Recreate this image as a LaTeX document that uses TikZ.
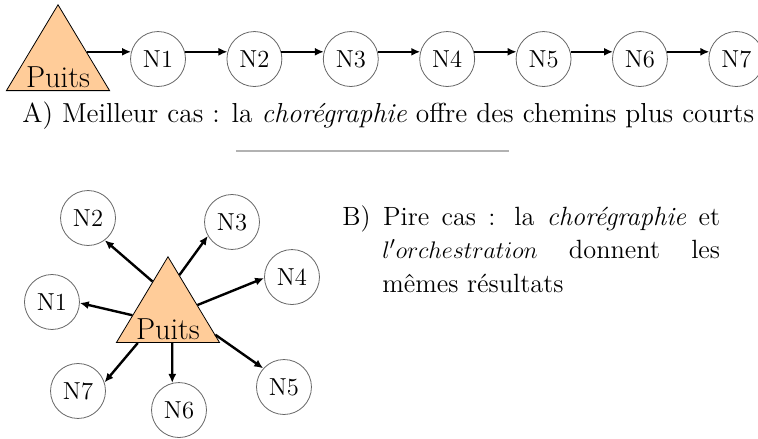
\documentclass[tikz,border=0pt]{standalone}
\usepackage{fontspec}
\usepackage{amsmath}
\usetikzlibrary{shapes.geometric, arrows.meta}
\tikzset{
puits/.style={isosceles triangle, isosceles triangle apex angle=62,
  shape border rotate=90, draw, fill=orange!40, inner sep=1.6pt,
  anchor=south, font=\fontsize{15.2}{17}\selectfont},
noeud/.style={circle, draw=black!60, minimum size=27.5pt, inner sep=0pt,
  font=\fontsize{12.3}{14}\selectfont},
fleche/.style={-{Latex[length=4.5pt,width=4pt]}, line width=1.2pt},
legende/.style={inner sep=0pt, font=\fontsize{13.75}{16.75}\selectfont}
}
\begin{document}
\begin{tikzpicture}
\useasboundingbox (0,0) rectangle (13.330,7.703);
% A) meilleur cas
\node[puits] (p) at (1.020,6.102) {Puits};
\foreach \i in {1,...,7}
  \node[noeud] (n\i) at ({2.779+(\i-1)*1.695},6.665) {N\i};
\draw[fleche] (p.40 |- n1.165) -- (n1.165);
\foreach \i/\j in {1/2,2/3,3/4,4/5,5/6,6/7}
  \draw[fleche] (n\i.15) -- (n\j.165);
\node[legende, anchor=base west] (la) at (0.387,5.540)
  {A) Meilleur cas : la \textit{chorégraphie} offre des chemins plus courts};
\draw[black!30, line width=0.6pt] (4.150,5.047) -- (8.951,5.047);
% B) pire cas
\node[puits] (q) at (2.954,1.671) {Puits};
\node[noeud] (m1) at (0.914,2.392) {N1};
\node[noeud] (m2) at (1.548,3.869) {N2};
\node[noeud] (m3) at (4.080,3.799) {N3};
\node[noeud] (m4) at (5.135,2.831) {N4};
\node[noeud] (m5) at (4.994,0.897) {N5};
\node[noeud] (m6) at (3.148,0.492) {N6};
\node[noeud] (m7) at (1.372,0.827) {N7};
\draw[fleche] (q.108) -- (m2.307);
\draw[fleche] (q.78) -- (m3.210);
\draw[fleche] (q.39) -- (m4.182);
\draw[fleche] (q.159) -- (m1.358);
\draw[fleche] (q.205) -- (m7.18);
\draw[fleche] (q.287) -- (m6.104);
\draw[fleche] (q.353) -- (m5.138);
\node[legende, anchor=north west, text width=189pt, align=justify,
  font=\fontsize{13.2}{16.75}\selectfont] (lb) at (6.014,4.10)
  {\hangindent=20pt\hangafter=1 B) Pire cas : la \textit{chorégraphie} et\linebreak
   $l'orchestration$ donnent les\linebreak mêmes résultats\par};
\end{tikzpicture}
\end{document}
